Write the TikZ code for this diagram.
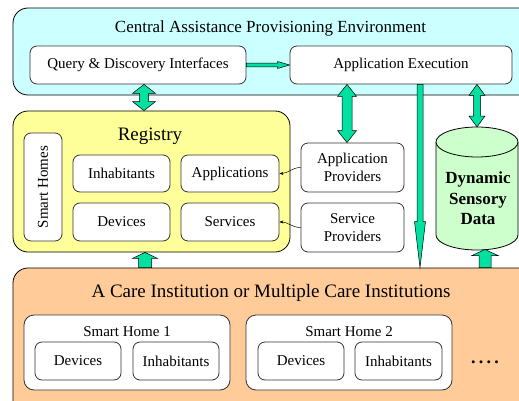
\documentclass[tikz,border=0pt]{standalone}
\usepackage{fontspec}
\setmainfont{Liberation Serif}
\usetikzlibrary{calc,arrows.meta}

\definecolor{capecyan}{HTML}{CCFFFF}
\definecolor{regyellow}{HTML}{FFFF99}
\definecolor{careorange}{HTML}{FFCC99}
\definecolor{dsdgreen}{HTML}{CCFFCC}
\definecolor{arrowgreen}{HTML}{00E0A0}

\tikzset{
  outerbox/.style={draw=black, line width=0.8pt, rounded corners=15pt},
  innerbox/.style={draw=black!80, line width=0.8pt, rounded corners=7pt, fill=white,
    align=center, inner sep=0pt, font=\fontsize{15}{17.5}\selectfont},
  homebox/.style={draw=black!80, line width=0.8pt, rounded corners=10pt, fill=white},
  titletext/.style={font=\fontsize{#1}{#1}\selectfont},
  fatarrow/.style={fill=arrowgreen, draw=black, line width=0.5pt},
  thinarrow/.style={draw=black, line width=0.5pt, -{Stealth[length=4pt,width=3pt]}}
}

% fat arrow with two heads: from, to, half body, half head, head length
\newcommand{\fatdouble}[5]{%
  \filldraw[fatarrow] (#1) -- ($(#1)!#5!(#2)!#4!90:(#2)$) -- ($(#1)!#5!(#2)!#3!90:(#2)$)
    -- ($(#2)!#5!(#1)!#3!-90:(#1)$) -- ($(#2)!#5!(#1)!#4!-90:(#1)$) -- (#2)
    -- ($(#2)!#5!(#1)!#4!90:(#1)$) -- ($(#2)!#5!(#1)!#3!90:(#1)$)
    -- ($(#1)!#5!(#2)!#3!-90:(#2)$) -- ($(#1)!#5!(#2)!#4!-90:(#2)$) -- cycle;}
% fat arrow with one head at the second point
\newcommand{\fatsingle}[5]{%
  \filldraw[fatarrow] ($(#1)!#3!90:(#2)$) -- ($(#2)!#5!(#1)!#3!-90:(#1)$)
    -- ($(#2)!#5!(#1)!#4!-90:(#1)$) -- (#2) -- ($(#2)!#5!(#1)!#4!90:(#1)$)
    -- ($(#2)!#5!(#1)!#3!90:(#1)$) -- ($(#1)!#3!-90:(#2)$) -- cycle;}

\begin{document}
\begin{tikzpicture}[x=1pt,y=1pt]

\useasboundingbox (0,0) rectangle (519,400);
\clip (0,0) rectangle (519,400);

% Central environment
\node[outerbox, fill=capecyan, minimum width=527pt, minimum height=87pt] (cape) at (276.5,348.5) {};
\node[titletext=17] (capetitle) at (270.5,371.5) {Central Assistance Provisioning Environment};
\node[innerbox, minimum width=216pt, minimum height=38pt] (qdi) at (138,335) {Query \& Discovery Interfaces};
\node[innerbox, minimum width=222pt, minimum height=38pt] (appx) at (401,335) {Application Execution};

% Registry
\node[outerbox, fill=regyellow, minimum width=277pt, minimum height=141pt] (reg) at (151.5,218.5) {};
\node[titletext=19] (regtitle) at (150,264) {Registry};
\node[innerbox, rotate=90, minimum width=108pt, minimum height=38pt] (shomes) at (43,213) {Smart Homes};
\node[innerbox, minimum width=97pt, minimum height=37pt] (rinh) at (121.5,226.5) {Inhabitants};
\node[innerbox, minimum width=98pt, minimum height=37pt] (rapp) at (230,226.5) {Applications};
\node[innerbox, minimum width=97pt, minimum height=38pt] (rdev) at (121.5,178) {Devices};
\node[innerbox, minimum width=98pt, minimum height=38pt] (rsrv) at (230,178) {Services};

% Providers
\node[innerbox, minimum width=103pt, minimum height=49pt] (aprov) at (352.5,232.5) {Application\\Providers};
\node[innerbox, minimum width=103pt, minimum height=49pt] (sprov) at (352.5,172.5) {Service\\Providers};

% Dynamic sensory data (cylinder)
\filldraw[fill=dsdgreen, draw=black, line width=0.8pt] (436,258) -- (436,165)
  arc[start angle=180, end angle=360, x radius=41, y radius=15] -- (518,258);
\filldraw[fill=dsdgreen, draw=black, line width=0.8pt] (477,258) ellipse (41 and 15);
\node[align=center, font=\fontsize{17}{20.5}\selectfont\bfseries] (dsd) at (478,201.5) {Dynamic\\Sensory\\Data};

% Care institutions
\node[outerbox, fill=careorange, minimum width=527pt, minimum height=152pt] (care) at (276.5,56) {};
\node[titletext=19] (caretitle) at (271,107.5) {A Care Institution or Multiple Care Institutions};
\node[homebox, minimum width=206pt, minimum height=75pt] (sh1) at (127,47.5) {};
\node[titletext=15] (sh1title) at (127,68) {Smart Home 1};
\node[innerbox, minimum width=86pt, minimum height=38pt] (dev1) at (78,39) {Devices};
\node[innerbox, minimum width=86pt, minimum height=38pt] (inh1) at (176,39) {Inhabitants};
\node[homebox, minimum width=206pt, minimum height=75pt] (sh2) at (349,47.5) {};
\node[titletext=15] (sh2title) at (349,68) {Smart Home 2};
\node[innerbox, minimum width=86pt, minimum height=38pt] (dev2) at (301,39) {Devices};
\node[innerbox, minimum width=87pt, minimum height=38pt] (inh2) at (398.5,39) {Inhabitants};
\node[font=\fontsize{18}{18}\selectfont\bfseries, inner sep=0pt] (more) at (485,38)
  {.\kern3.2pt.\kern3.2pt.\kern3.2pt.};

% Arrow end points
\coordinate (q1) at (144,0 |- qdi.south);
\coordinate (q2) at (144,0 |- reg.north);
\coordinate (p1) at (347,0 |- appx.south);
\coordinate (p2) at (347,0 |- aprov.north);
\coordinate (e1) at (420,0 |- appx.south);
\coordinate (e2) at (420,0 |- care.north);
\coordinate (d1) at (477,0 |- appx.south);
\coordinate (d2) at (477,273);
\coordinate (c1) at (145,0 |- care.north);
\coordinate (c2) at (145,0 |- reg.south);
\coordinate (c3) at (485,0 |- care.north);
\coordinate (c4) at (485,150.5);

% Fat arrows
\fatsingle{qdi.east}{appx.west}{1.8pt}{3.5pt}{12pt}
\fatdouble{q1}{q2}{4.5pt}{11.5pt}{9pt}
\fatdouble{p1}{p2}{5pt}{9.5pt}{12pt}
\fatsingle{e1}{e2}{3pt}{5.5pt}{46pt}
\fatdouble{d1}{d2}{3.5pt}{8pt}{11pt}
\fatsingle{c1}{c2}{6.5pt}{12.5pt}{6pt}
\fatsingle{c3}{c4}{6pt}{13pt}{6pt}

% Providers to registry
\draw[thinarrow] (aprov.west) to[out=180,in=0] (rapp.east);
\draw[thinarrow] (sprov.west) to[out=180,in=0] (rsrv.east);

\end{tikzpicture}
\end{document}
